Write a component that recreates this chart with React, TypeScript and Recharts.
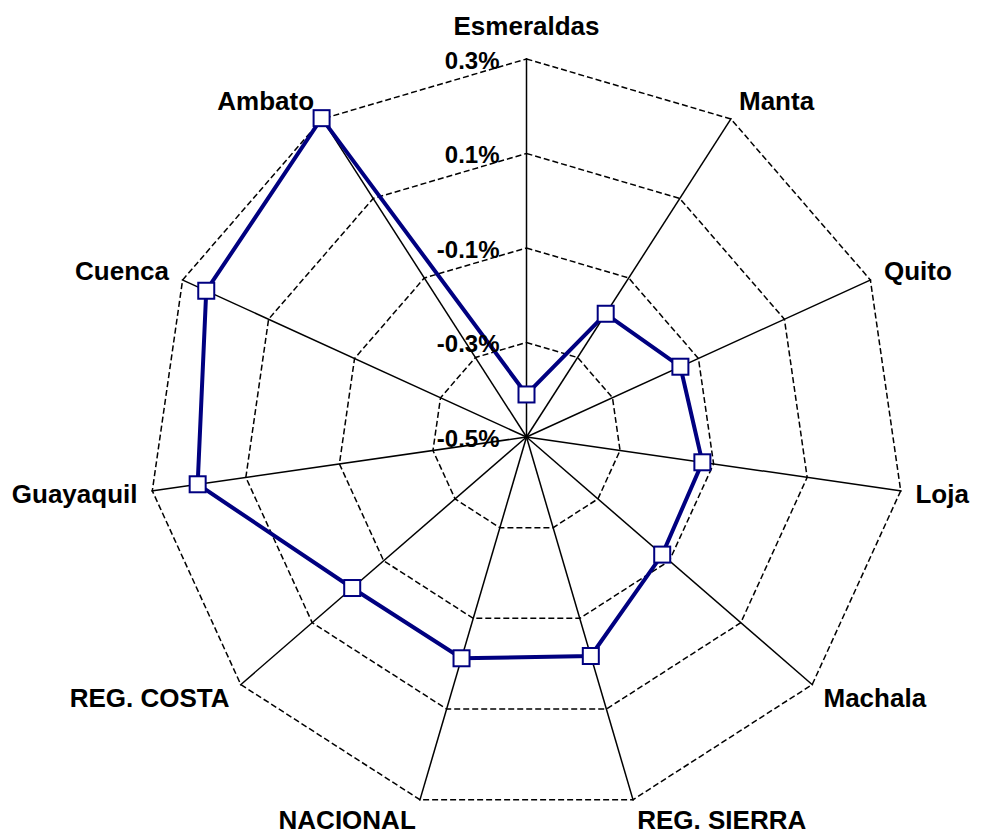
import React from 'react';
import { RadarChart, Radar, PolarGrid, PolarAngleAxis, PolarRadiusAxis } from 'recharts';

const cities = ['Esmeraldas', 'Manta', 'Quito', 'Loja', 'Machala', 'REG. SIERRA', 'NACIONAL', 'REG. COSTA', 'Guayaquil', 'Cuenca', 'Ambato'];
const changes = [-0.41, -0.19, -0.142, -0.124, -0.12, -0.017, -0.012, -0.012, 0.203, 0.245, 0.302];
const radiusTicks = [-0.5, -0.3, -0.1, 0.1, 0.3];

const data = cities.map((name, i) => ({ name, v: changes[i] }));

const CX = 526.5;
const CY = 437;
const R = 379;
const FONT = '"Liberation Sans", Arial, sans-serif';
const NAVY = '#000080';

const CityTick = (props: any) => {
  const angle = (props.payload.coordinate * Math.PI) / 180;
  const cos = Math.cos(angle);
  const sin = Math.sin(angle);
  const vx = CX + R * cos;
  const vy = CY - R * sin;
  const top = Math.abs(cos) < 0.1;
  const x = vx + cos * 14;
  const y = vy - sin * (top ? 32 : 20) + 9;
  const anchor = top ? 'middle' : cos > 0 ? 'start' : 'end';
  return (
    <text x={x} y={y} textAnchor={anchor} fontFamily={FONT} fontWeight="bold" fontSize={26} fill="#000">
      {props.payload.value}
    </text>
  );
};

const PctTick = (props: any) => (
  <text x={props.x - 27} y={props.y + 10} textAnchor="end" fontFamily={FONT} fontWeight="bold" fontSize={24} fill="#000">
    {props.payload.value.toFixed(1)}%
  </text>
);

const SquareDot = (props: any) => (
  <rect
    key={`dot-${props.index}`}
    x={props.cx - 8}
    y={props.cy - 8}
    width={16}
    height={16}
    fill="#fff"
    stroke={NAVY}
    strokeWidth={2}
  />
);

export default function App() {
  return (
    <div style={{ position: 'absolute', left: 0, top: 0, width: 981, height: 837, background: '#fff' }}>
      <RadarChart width={981} height={837} data={data} cx={CX} cy={CY} outerRadius={R} margin={{ top: 0, right: 0, bottom: 0, left: 0 }}>
        <PolarGrid gridType="polygon" radialLines={false} stroke="#000" strokeWidth={1.5} strokeDasharray="6 3" />
        <PolarGrid gridType="polygon" polarRadius={[]} stroke="#000" strokeWidth={1.5} />
        <PolarAngleAxis dataKey="name" tick={CityTick} tickLine={false} axisLine={false} />
        <PolarRadiusAxis
          angle={90}
          type="number"
          domain={[-0.5, 0.3]}
          ticks={radiusTicks}
          tick={PctTick}
          tickLine={false}
          axisLine={false}
        />
        <Radar
          dataKey="v"
          stroke={NAVY}
          strokeWidth={4}
          fill="none"
          fillOpacity={0}
          dot={SquareDot}
          isAnimationActive={false}
        />
      </RadarChart>
    </div>
  );
}
